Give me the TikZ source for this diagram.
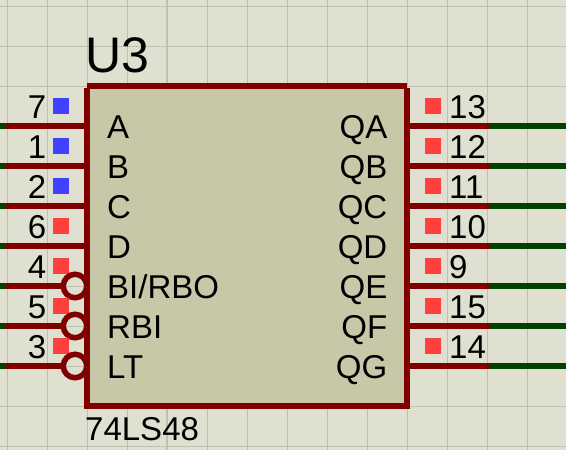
\documentclass[tikz,border=0pt]{standalone}
\usepackage{fontspec}
\setmainfont{Liberation Sans}
\definecolor{sheet}{HTML}{DFE0D0}
\definecolor{gridline}{HTML}{C0C0B0}
\definecolor{bodyfill}{HTML}{C8C8A8}
\definecolor{pinred}{HTML}{800000}
\definecolor{wiregreen}{HTML}{004000}
\definecolor{logichigh}{HTML}{FF4040}
\definecolor{logiclow}{HTML}{4040FF}
\tikzset{
  gridthin/.style={draw=gridline,line width=1pt},
  gridthick/.style={draw=gridline,line width=2pt},
  pinline/.style={draw=pinred,line width=6pt},
  wireline/.style={draw=wiregreen,line width=6pt},
  bubble/.style={circle,draw=pinred,line width=5.5pt,minimum size=23.5pt,inner sep=0pt},
  hi/.style={fill=logichigh,draw=none,minimum size=16pt,inner sep=0pt},
  lo/.style={fill=logiclow,draw=none,minimum size=16pt,inner sep=0pt},
  pintext/.style={font=\fontsize{33}{33}\selectfont,inner sep=0pt,text=black},
  reftext/.style={font=\fontsize{50}{50}\selectfont,inner sep=0pt,text=black},
}
\begin{document}
\begin{tikzpicture}[x=1pt,y=-1pt]
\useasboundingbox (0,0) rectangle (566,450);
\fill[sheet] (0,0) rectangle (566,450);
% grid
\foreach \gx in {7.5,47.5,87.5,127.5,207.5,247.5,287.5,327.5,367.5,407.5,447.5,487.5,527.5}
  \draw[gridthin] (\gx,0) -- (\gx,450);
\draw[gridthick] (167,0) -- (167,450);
\foreach \gy in {6.5,46.5,86.5,126.5,166.5,206.5,246.5,286.5,326.5,366.5,406.5,446.5}
  \draw[gridthin] (0,\gy) -- (566,\gy);
% body
\fill[bodyfill] (87,86) coordinate (bodyTL) rectangle (407,406) coordinate (bodyBR);
\coordinate (bodyTR) at (407,86);
\coordinate (bodyBL) at (87,406);
\draw[pinline] (bodyTL) -- (bodyTR);
\draw[pinline] ([yshift=-2pt]bodyTL) -- ([yshift=3pt]bodyBL);
\draw[pinline] ([yshift=-2pt]bodyTR) -- ([yshift=3pt]bodyBR);
\draw[pinline] ([xshift=-3pt]bodyBL) -- ([xshift=3pt]bodyBR);
% left pins
\foreach \nm/\py/\txt/\num/\st in {A/126/A/7/lo,B/166/B/1/lo,C/206/C/2/lo,D/246/D/6/hi}{
  \coordinate (L\nm end) at (0,\py);
  \coordinate (L\nm green) at (5,\py);
  \coordinate (L\nm body) at (87,\py);
  \draw[wireline] (L\nm end) -- (L\nm green);
  \draw[pinline] (L\nm green) -- (L\nm body);
  \node[\st] (S\nm) at (61,\py-20) {};
  \node[pintext,anchor=base east] (N\nm) at (46.5,\py-8) {\num};
  \node[pintext,anchor=base west] (T\nm) at (107,\py+12) {\txt};
}
\foreach \nm/\py/\txt/\num in {E/286/BI\slash RBO/4,F/326/RBI/5,G/366/LT/3}{
  \coordinate (L\nm end) at (0,\py);
  \coordinate (L\nm green) at (5,\py);
  \node[hi] (S\nm) at (61,\py-20) {};
  \node[bubble] (B\nm) at (75,\py) {};
  \draw[wireline] (L\nm end) -- (L\nm green);
  \draw[pinline] (L\nm green) -- (B\nm.west);
  \node[pintext,anchor=base east] (N\nm) at (46.5,\py-8) {\num};
  \node[pintext,anchor=base west] (T\nm) at (107,\py+12) {\txt};
}
% right pins
\foreach \nm/\py/\txt/\num in {A/126/QA/13,B/166/QB/12,C/206/QC/11,D/246/QD/10,E/286/QE/9,F/326/QF/15,G/366/QG/14}{
  \coordinate (R\nm body) at (407,\py);
  \coordinate (R\nm mid) at (490,\py);
  \coordinate (R\nm end) at (566,\py);
  \draw[wireline] (R\nm mid) -- (R\nm end);
  \draw[pinline] (R\nm body) -- (R\nm mid);
  \node[hi] (Q\nm) at (433,\py-20) {};
  \node[pintext,anchor=base west] (M\nm) at (449,\py-8) {\num};
  \node[pintext,anchor=base east] (O\nm) at (387.5,\py+12) {\txt};
}
\node[reftext,anchor=base west] (ref) at (85,72.5) {U3};
\node[pintext,anchor=base west] (part) at (85,440) {74LS48};
\end{tikzpicture}
\end{document}
